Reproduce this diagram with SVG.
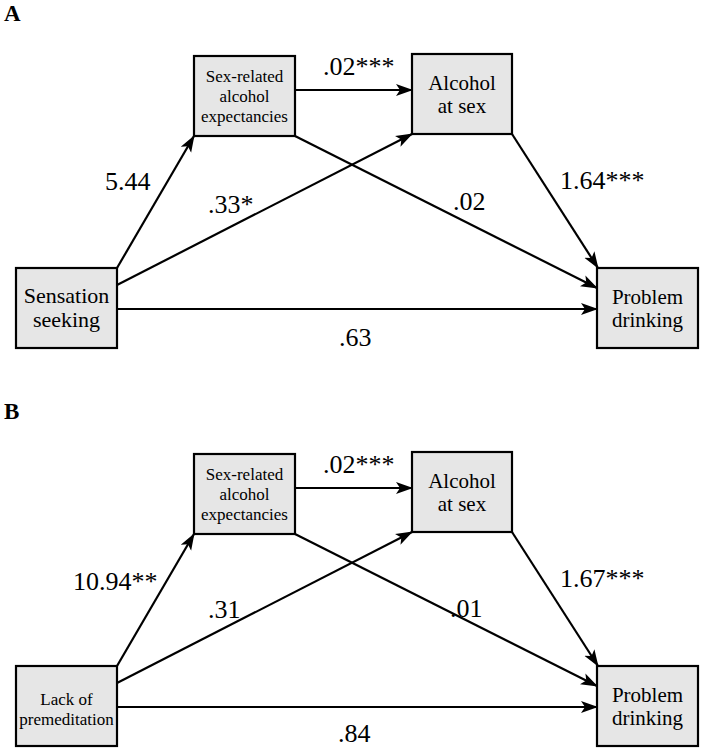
<svg xmlns="http://www.w3.org/2000/svg" width="704" height="750" viewBox="0 0 704 750">
<defs>
<style>
.box{fill:#e6e6e6;stroke:#000;stroke-width:2.2}
.t{font-family:"Liberation Serif","Times New Roman",serif;fill:#000;text-anchor:middle}
.n21{font-size:21px}
.n17{font-size:17px}
.lab{font-family:"Liberation Serif","Times New Roman",serif;font-size:26px;fill:#000}
.panel{font-family:"Liberation Serif","Times New Roman",serif;font-size:23px;font-weight:bold;fill:#000}
.c{stroke:#000;stroke-width:2.2;fill:none;marker-end:url(#ah)}
</style>
<marker id="ah" markerUnits="userSpaceOnUse" markerWidth="18" markerHeight="14" refX="16" refY="6" orient="auto" viewBox="0 0 18 12">
<path d="M0,0 L17,6 L0,12 L4,6 Z" fill="#000"/>
</marker>
</defs>
<rect width="704" height="750" fill="#fff"/>
<text class="panel" x="4" y="21">A</text>
<text class="panel" x="4" y="419">B</text>
<g id="connectors">
<line class="c" x1="117" y1="268" x2="194" y2="136"/>
<line class="c" x1="117" y1="285" x2="412" y2="134"/>
<line class="c" x1="117" y1="309" x2="597" y2="309"/>
<line class="c" x1="295" y1="90" x2="412" y2="90"/>
<line class="c" x1="295" y1="136" x2="597" y2="288"/>
<line class="c" x1="512" y1="134" x2="598" y2="268"/>
<line class="c" x1="117" y1="666" x2="194" y2="534"/>
<line class="c" x1="117" y1="683" x2="412" y2="532"/>
<line class="c" x1="117" y1="707" x2="597" y2="707"/>
<line class="c" x1="295" y1="488" x2="412" y2="488"/>
<line class="c" x1="295" y1="534" x2="597" y2="686"/>
<line class="c" x1="512" y1="532" x2="598" y2="666"/>
</g>
<g id="labels">
<text class="lab" x="105" y="190">5.44</text>
<text class="lab" x="208" y="213">.33*</text>
<text class="lab" x="323" y="75">.02***</text>
<text class="lab" x="453" y="210">.02</text>
<text class="lab" x="560" y="189">1.64***</text>
<text class="lab" x="339" y="346">.63</text>
<text class="lab" x="73" y="590">10.94**</text>
<text class="lab" x="208" y="618">.31</text>
<text class="lab" x="323" y="473">.02***</text>
<text class="lab" x="450" y="617">.01</text>
<text class="lab" x="560" y="587">1.67***</text>
<text class="lab" x="338" y="742">.84</text>
</g>
<g id="a-sex-expectancies">
<rect class="box" x="194" y="56" width="101" height="80"/>
<text class="t n17" x="244.5" y="82">Sex-related</text>
<text class="t n17" x="244.5" y="102">alcohol</text>
<text class="t n17" x="244.5" y="122">expectancies</text>
</g>
<g id="a-alcohol-at-sex">
<rect class="box" x="412" y="54" width="100" height="80"/>
<text class="t n21" x="462" y="90">Alcohol</text>
<text class="t n21" x="462" y="113">at sex</text>
</g>
<g id="a-sensation-seeking">
<rect class="box" x="16" y="268" width="101" height="80"/>
<text class="t" style="font-size:22px" x="66.5" y="303">Sensation</text>
<text class="t" style="font-size:22px" x="66.5" y="327">seeking</text>
</g>
<g id="a-problem-drinking">
<rect class="box" x="597" y="268" width="101" height="80"/>
<text class="t n21" x="647.5" y="304">Problem</text>
<text class="t n21" x="647.5" y="327">drinking</text>
</g>
<g id="b-sex-expectancies">
<rect class="box" x="194" y="454" width="101" height="80"/>
<text class="t n17" x="244.5" y="480">Sex-related</text>
<text class="t n17" x="244.5" y="500">alcohol</text>
<text class="t n17" x="244.5" y="520">expectancies</text>
</g>
<g id="b-alcohol-at-sex">
<rect class="box" x="412" y="452" width="100" height="80"/>
<text class="t n21" x="462" y="488">Alcohol</text>
<text class="t n21" x="462" y="511">at sex</text>
</g>
<g id="b-lack-of-premeditation">
<rect class="box" x="16" y="666" width="101" height="80"/>
<text class="t n17" x="66.5" y="705">Lack of</text>
<text class="t n17" x="66.5" y="725">premeditation</text>
</g>
<g id="b-problem-drinking">
<rect class="box" x="597" y="666" width="101" height="80"/>
<text class="t n21" x="647.5" y="702">Problem</text>
<text class="t n21" x="647.5" y="725">drinking</text>
</g>
</svg>
